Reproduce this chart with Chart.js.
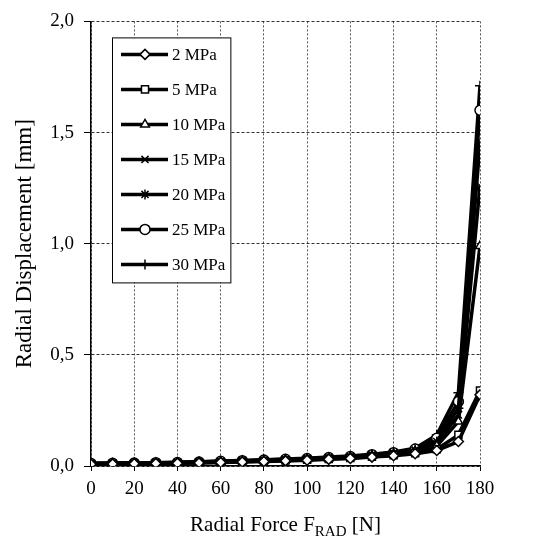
<!DOCTYPE html>
<html lang="en">
<head>
  <meta charset="UTF-8">
  <title>Radial Displacement vs Radial Force</title>
  <script src="https://cdn.jsdelivr.net/npm/chart.js"></script>
  <style>
    body {
      margin: 0;
      padding: 0;
      background-color: white;
    }
  </style>
</head>
<body>
  <canvas id="chart" width="560" height="542"></canvas>

  <script>
    // radial force [N]
    const force = [0, 10, 20, 30, 40, 50, 60, 70, 80, 90, 100, 110, 120, 130, 140, 150, 160, 170, 180];

    // radial displacement [mm] per pressure
    const p2 = [0.008, 0.009, 0.010, 0.011, 0.012, 0.014, 0.016, 0.018, 0.020, 0.023, 0.026, 0.030, 0.034, 0.040, 0.046, 0.055, 0.070, 0.110, 0.320];
    const p5 = [0.009, 0.010, 0.011, 0.012, 0.013, 0.015, 0.017, 0.019, 0.022, 0.025, 0.028, 0.032, 0.036, 0.042, 0.049, 0.058, 0.075, 0.140, 0.340];
    const p10 = [0.010, 0.011, 0.012, 0.013, 0.015, 0.017, 0.019, 0.022, 0.025, 0.028, 0.031, 0.035, 0.040, 0.047, 0.054, 0.066, 0.090, 0.200, 0.990];
    const p15 = [0.010, 0.011, 0.012, 0.014, 0.015, 0.017, 0.020, 0.022, 0.025, 0.029, 0.032, 0.036, 0.041, 0.048, 0.056, 0.069, 0.100, 0.230, 1.260];
    const p20 = [0.011, 0.012, 0.013, 0.014, 0.016, 0.018, 0.020, 0.023, 0.026, 0.029, 0.033, 0.037, 0.042, 0.049, 0.058, 0.072, 0.110, 0.260, 1.450];
    const p25 = [0.011, 0.012, 0.013, 0.015, 0.016, 0.018, 0.021, 0.024, 0.027, 0.030, 0.034, 0.038, 0.043, 0.051, 0.060, 0.076, 0.125, 0.290, 1.600];
    const p30 = [0.012, 0.013, 0.014, 0.015, 0.017, 0.019, 0.022, 0.025, 0.028, 0.031, 0.035, 0.040, 0.045, 0.053, 0.063, 0.080, 0.140, 0.330, 1.710];

    const seriesLabels = ['2 MPa', '5 MPa', '10 MPa', '15 MPa', '20 MPa', '25 MPa', '30 MPa'];
    const seriesValues = [p2, p5, p10, p15, p20, p25, p30];
    const markers = ['rectRot', 'rect', 'triangle', 'crossRot', 'star', 'circle', 'cross'];

    const FONT = "'Liberation Serif', 'Times New Roman', serif";

    const datasets = seriesLabels.map((label, i) => ({
      label: label,
      data: force.map((f, j) => ({x: f, y: seriesValues[i][j]})),
      borderColor: 'black',
      borderWidth: 3.5,
      pointStyle: markers[i],
      pointRadius: 5,
      pointHoverRadius: 5,
      pointBackgroundColor: 'white',
      pointBorderColor: 'black',
      pointBorderWidth: 1.5,
      tension: 0
    }));

    // legend box inside the plot: line + marker + text
    const boxLegend = {
      id: 'boxLegend',
      afterDraw(chart) {
        const ctx = chart.ctx;
        const area = chart.chartArea;
        const left = area.left + 21;
        const top = area.top + 16;
        const rowH = 35;
        const n = chart.data.datasets.length;
        ctx.save();
        ctx.font = '17px ' + FONT;
        let maxW = 0;
        chart.data.datasets.forEach(ds => { maxW = Math.max(maxW, ctx.measureText(ds.label).width); });
        const w = 60 + maxW + 5;
        const h = 17 + (n - 1) * rowH + 18;
        ctx.fillStyle = 'white';
        ctx.fillRect(left, top, w, h);
        ctx.strokeStyle = 'black';
        ctx.lineWidth = 1;
        ctx.strokeRect(left + 0.5, top + 0.5, w, h);

        chart.data.datasets.forEach((ds, i) => {
          const y = top + 17 + i * rowH;
          ctx.strokeStyle = 'black';
          ctx.lineWidth = ds.borderWidth;
          ctx.beginPath();
          ctx.moveTo(left + 9, y);
          ctx.lineTo(left + 56, y);
          ctx.stroke();
          ctx.fillStyle = ds.pointBackgroundColor;
          ctx.strokeStyle = ds.pointBorderColor;
          ctx.lineWidth = ds.pointBorderWidth;
          Chart.helpers.drawPoint(ctx, {pointStyle: ds.pointStyle, radius: ds.pointRadius, borderWidth: ds.pointBorderWidth, rotation: 0}, left + 33, y);
          ctx.fillStyle = 'black';
          ctx.textBaseline = 'middle';
          ctx.textAlign = 'left';
          ctx.fillText(ds.label, left + 60, y + 1);
        });
        ctx.restore();
      }
    };

    // x axis title with subscript
    const xTitle = {
      id: 'xTitle',
      afterDraw(chart) {
        const ctx = chart.ctx;
        const area = chart.chartArea;
        const parts = [
          {t: 'Radial Force F', size: 21, dy: 0},
          {t: 'RAD', size: 15, dy: 5},
          {t: ' [N]', size: 21, dy: 0}
        ];
        ctx.save();
        ctx.fillStyle = 'black';
        ctx.textBaseline = 'alphabetic';
        ctx.textAlign = 'left';
        let total = 0;
        parts.forEach(p => { ctx.font = p.size + 'px ' + FONT; p.w = ctx.measureText(p.t).width; total += p.w; });
        let x = (area.left + area.right) / 2 - total / 2;
        const base = area.bottom + 65;
        parts.forEach(p => {
          ctx.font = p.size + 'px ' + FONT;
          ctx.fillText(p.t, x, base + p.dy);
          x += p.w;
        });
        ctx.restore();
      }
    };

    const ctx = document.getElementById('chart').getContext('2d');
    const chart = new Chart(ctx, {
      type: 'line',
      data: { datasets: datasets },
      plugins: [boxLegend, xTitle],
      options: {
        responsive: false,
        devicePixelRatio: 1,
        animation: false,
        layout: { padding: { top: 14, right: 80, left: 0, bottom: 0 } },
        plugins: {
          legend: { display: false },
          tooltip: { enabled: false }
        },
        scales: {
          x: {
            type: 'linear',
            min: 0,
            max: 180,
            afterFit: s => { s.height = 76; },
            ticks: {
              stepSize: 20,
              color: 'black',
              padding: 7,
              maxRotation: 0,
              font: { family: FONT, size: 19 }
            },
            grid: {
              color: '#555',
              lineWidth: 1,
              tickLength: 5,
              tickColor: 'black',
              tickWidth: 1,
              tickBorderDash: []
            },
            border: { color: 'black', width: 1.5, dash: [2, 2] }
          },
          y: {
            min: 0,
            max: 2,
            afterFit: s => { s.width = 91; },
            ticks: {
              stepSize: 0.5,
              color: 'black',
              padding: 10,
              font: { family: FONT, size: 19 },
              callback: v => v.toFixed(1).replace('.', ',')
            },
            grid: {
              color: '#333',
              lineWidth: 1,
              tickLength: 7,
              tickColor: 'black',
              tickWidth: 1,
              tickBorderDash: []
            },
            border: { color: 'black', width: 1.5, dash: [3, 2] },
            title: {
              display: true,
              text: 'Radial Displacement [mm]',
              color: 'black',
              font: { family: FONT, size: 23 },
              padding: { top: 11, bottom: 0 }
            }
          }
        }
      }
    });
  </script>
</body>
</html>
